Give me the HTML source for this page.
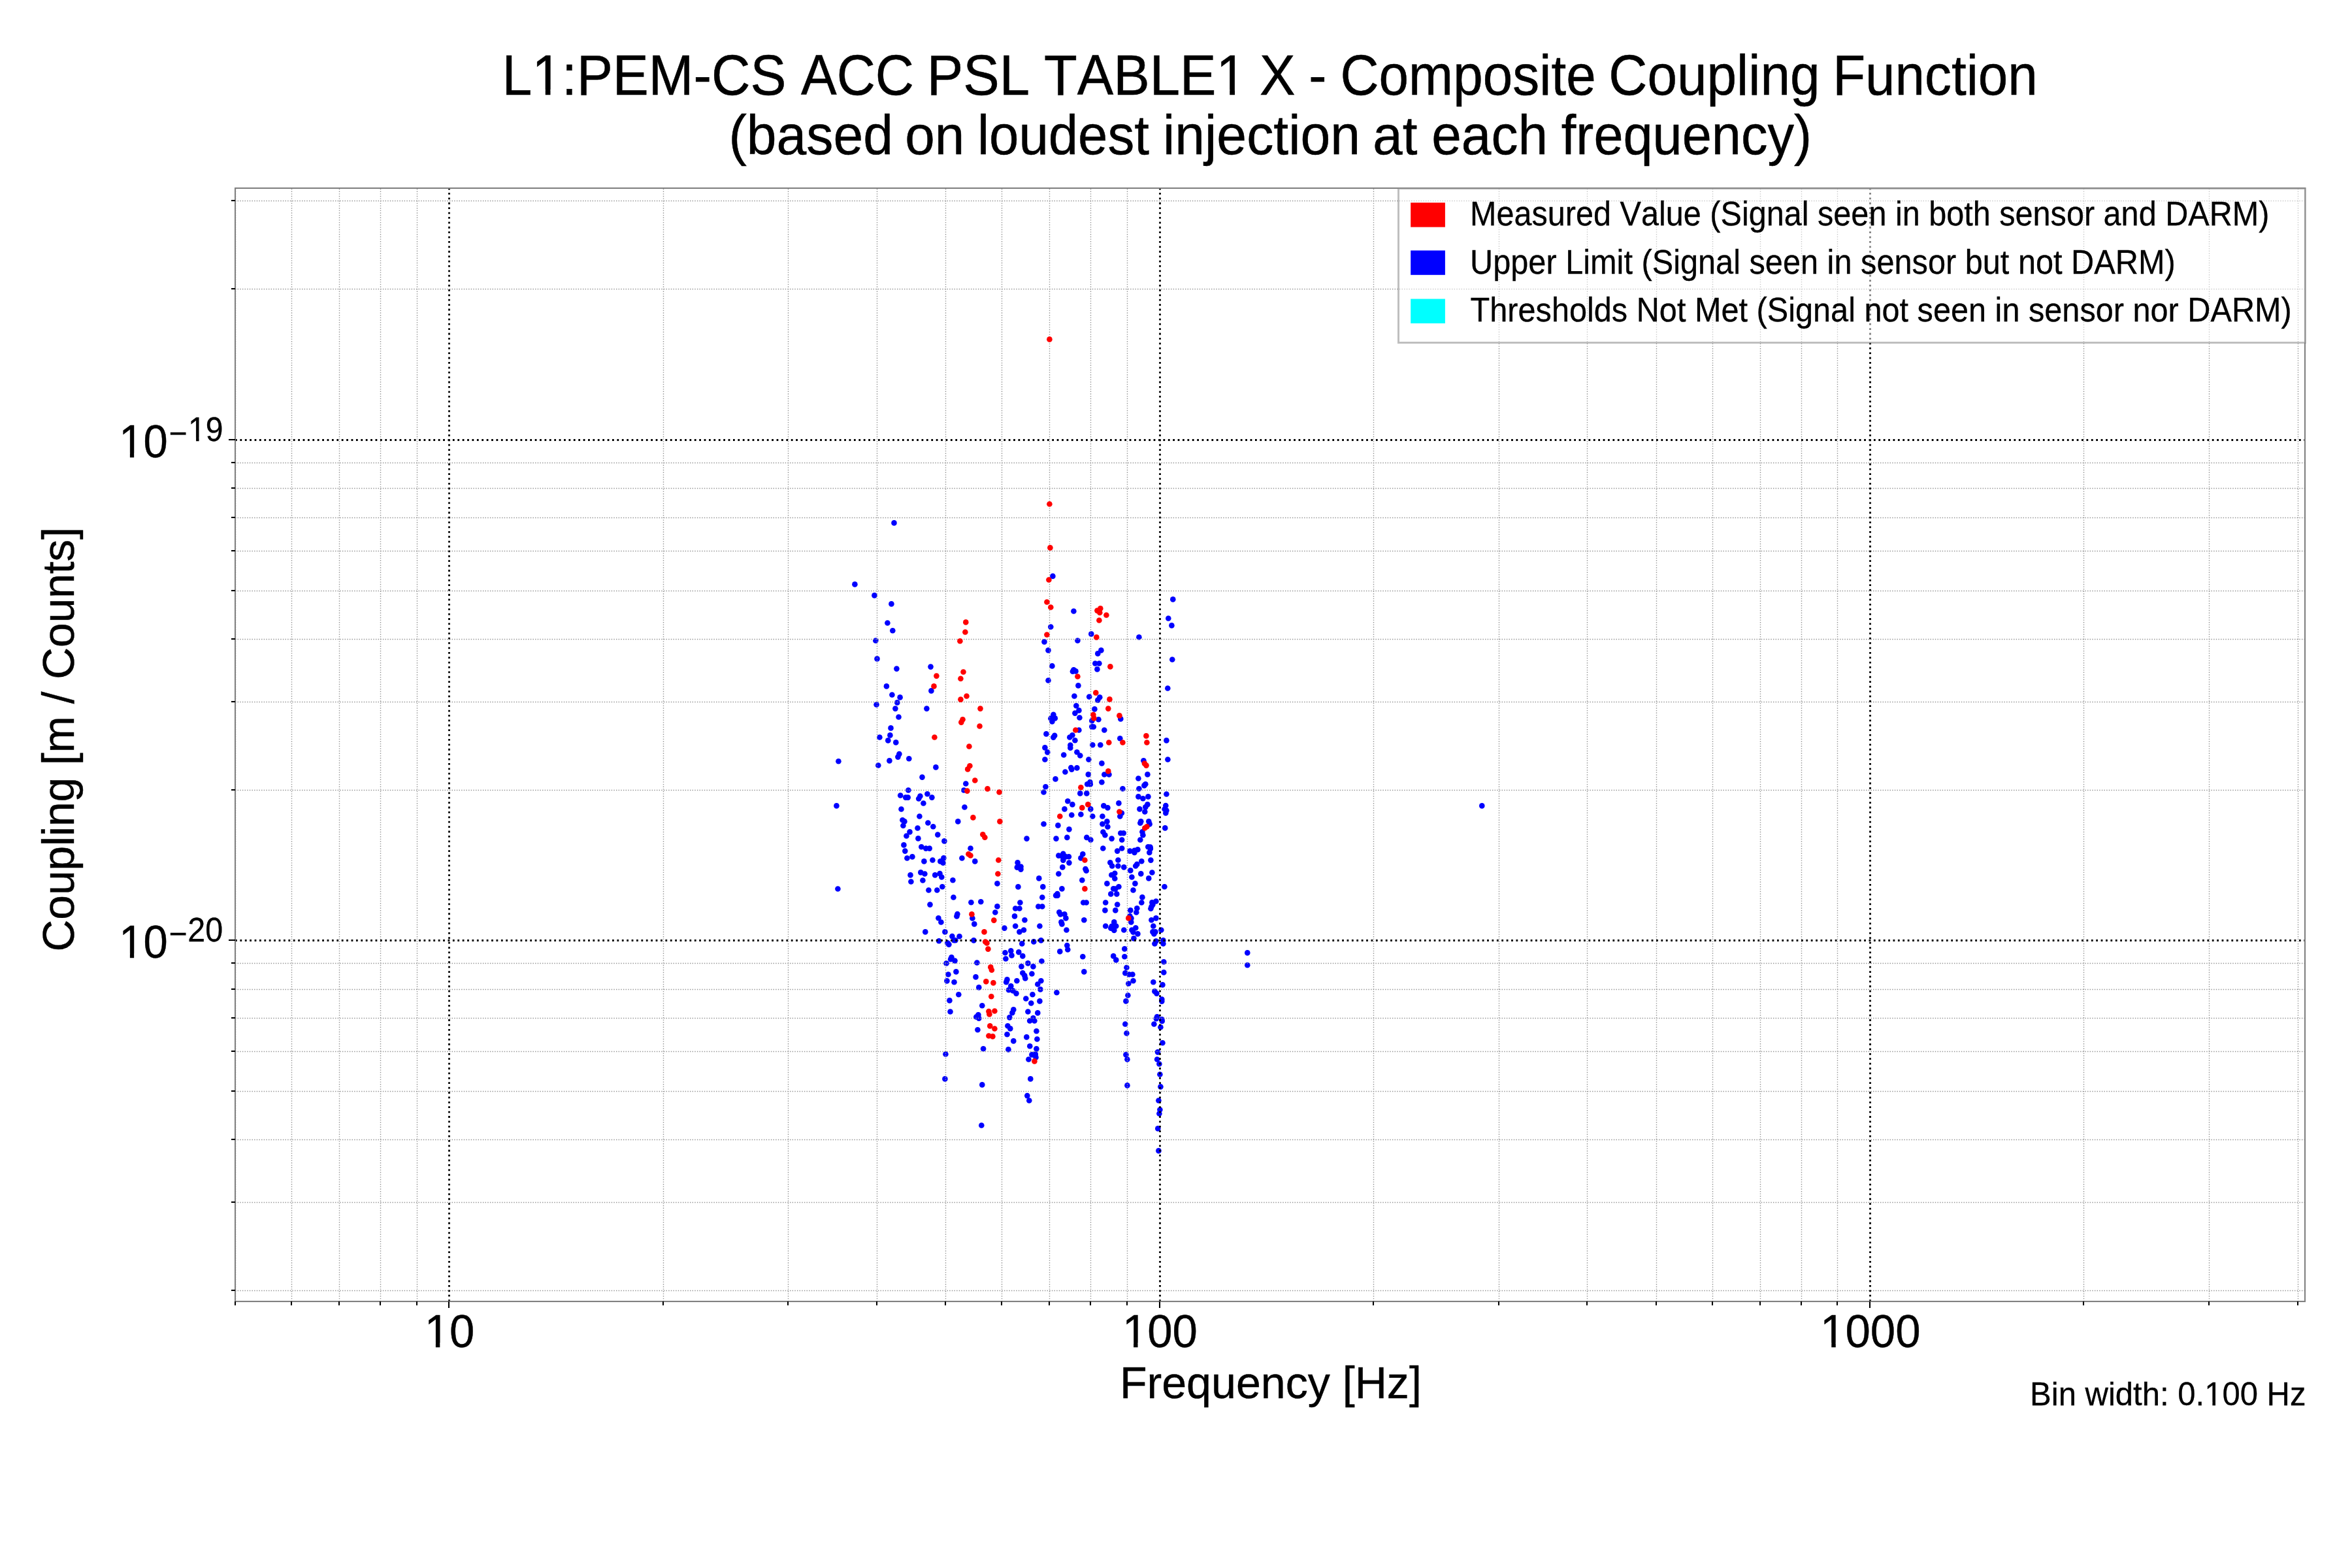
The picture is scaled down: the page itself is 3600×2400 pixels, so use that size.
<!DOCTYPE html>
<html><head><meta charset="utf-8"><title>L1:PEM-CS ACC PSL TABLE1 X - Composite Coupling Function</title>
<style>html,body{margin:0;padding:0;background:#fff}svg{display:block}text{font-family:"Liberation Sans",sans-serif;fill:#000;font-kerning:none}</style></head><body>
<svg width="3600" height="2400" viewBox="0 0 3600 2400">
<rect width="3600" height="2400" fill="#fff"/>
<g fill="#0000ff">
<circle cx="1368.5" cy="800.4" r="4.3"/>
<circle cx="1308.4" cy="894.4" r="4.3"/>
<circle cx="1338.4" cy="911.4" r="4.3"/>
<circle cx="1364.4" cy="924.4" r="4.3"/>
<circle cx="1358.4" cy="953.5" r="4.3"/>
<circle cx="1366.3" cy="965.3" r="4.3"/>
<circle cx="1340.3" cy="980.5" r="4.3"/>
<circle cx="1342.5" cy="1008.4" r="4.3"/>
<circle cx="1372.4" cy="1023.6" r="4.3"/>
<circle cx="1424.5" cy="1020.6" r="4.3"/>
<circle cx="1356.9" cy="1050.4" r="4.3"/>
<circle cx="1425.4" cy="1057.4" r="4.3"/>
<circle cx="1365.4" cy="1063.5" r="4.3"/>
<circle cx="1377.6" cy="1067.4" r="4.3"/>
<circle cx="1373.3" cy="1075.4" r="4.3"/>
<circle cx="1341.5" cy="1078.5" r="4.3"/>
<circle cx="1370.4" cy="1084.6" r="4.3"/>
<circle cx="1418.4" cy="1084.6" r="4.3"/>
<circle cx="1375.5" cy="1097.5" r="4.3"/>
<circle cx="1363.5" cy="1114.4" r="4.3"/>
<circle cx="1362.4" cy="1125.4" r="4.3"/>
<circle cx="1346.4" cy="1128.5" r="4.3"/>
<circle cx="1359.3" cy="1133.4" r="4.3"/>
<circle cx="1371.3" cy="1136.4" r="4.3"/>
<circle cx="1376.4" cy="1154.1" r="4.3"/>
<circle cx="1374.4" cy="1158.6" r="4.3"/>
<circle cx="1391.3" cy="1161.2" r="4.3"/>
<circle cx="1361.4" cy="1164.4" r="4.3"/>
<circle cx="1283.4" cy="1165.3" r="4.3"/>
<circle cx="1344.3" cy="1171.5" r="4.3"/>
<circle cx="1432.4" cy="1174.4" r="4.3"/>
<circle cx="1411.5" cy="1189.6" r="4.3"/>
<circle cx="1478.3" cy="1199.5" r="4.3"/>
<circle cx="1390.3" cy="1209.5" r="4.3"/>
<circle cx="1475.3" cy="1209.5" r="4.3"/>
<circle cx="1378.2" cy="1217.5" r="4.3"/>
<circle cx="1386.2" cy="1220.6" r="4.3"/>
<circle cx="1389.7" cy="1220.6" r="4.3"/>
<circle cx="1419.4" cy="1215.3" r="4.3"/>
<circle cx="1408.4" cy="1218.6" r="4.3"/>
<circle cx="1406.2" cy="1222.5" r="4.3"/>
<circle cx="1426.4" cy="1220.6" r="4.3"/>
<circle cx="1413.4" cy="1229.5" r="4.3"/>
<circle cx="1280.4" cy="1233.4" r="4.3"/>
<circle cx="1379.5" cy="1238.5" r="4.3"/>
<circle cx="1476.4" cy="1235.5" r="4.3"/>
<circle cx="1407.4" cy="1249.5" r="4.3"/>
<circle cx="1381.4" cy="1255.3" r="4.3"/>
<circle cx="1384.4" cy="1257.4" r="4.3"/>
<circle cx="1382.4" cy="1263.7" r="4.3"/>
<circle cx="1420.4" cy="1259.5" r="4.3"/>
<circle cx="1428.3" cy="1265.3" r="4.3"/>
<circle cx="1466.3" cy="1257.4" r="4.3"/>
<circle cx="1404.5" cy="1267.5" r="4.3"/>
<circle cx="1392.5" cy="1273.4" r="4.3"/>
<circle cx="1387.4" cy="1279.5" r="4.3"/>
<circle cx="1435.3" cy="1277.6" r="4.3"/>
<circle cx="1405.4" cy="1283.4" r="4.3"/>
<circle cx="1445.4" cy="1287.4" r="4.3"/>
<circle cx="1383.4" cy="1293.4" r="4.3"/>
<circle cx="1410.3" cy="1296.3" r="4.3"/>
<circle cx="1417.2" cy="1298.6" r="4.3"/>
<circle cx="1422.7" cy="1298.6" r="4.3"/>
<circle cx="1385.3" cy="1302.6" r="4.3"/>
<circle cx="1485.5" cy="1298.5" r="4.3"/>
<circle cx="1396.4" cy="1311.4" r="4.3"/>
<circle cx="1388.4" cy="1313.5" r="4.3"/>
<circle cx="1444.4" cy="1313.3" r="4.3"/>
<circle cx="1472.4" cy="1313.5" r="4.3"/>
<circle cx="1414.4" cy="1318.4" r="4.3"/>
<circle cx="1427.4" cy="1316.5" r="4.3"/>
<circle cx="1439.3" cy="1318.4" r="4.3"/>
<circle cx="1443.5" cy="1320.7" r="4.3"/>
<circle cx="1492.3" cy="1318.4" r="4.3"/>
<circle cx="1409.3" cy="1335.4" r="4.3"/>
<circle cx="1415.4" cy="1337.5" r="4.3"/>
<circle cx="1393.5" cy="1339.4" r="4.3"/>
<circle cx="1431.2" cy="1339.4" r="4.3"/>
<circle cx="1438.5" cy="1337.1" r="4.3"/>
<circle cx="1441.3" cy="1342.5" r="4.3"/>
<circle cx="1394.4" cy="1349.5" r="4.3"/>
<circle cx="1412.4" cy="1347.5" r="4.3"/>
<circle cx="1458.4" cy="1347.3" r="4.3"/>
<circle cx="1526.4" cy="1352.4" r="4.3"/>
<circle cx="1442.3" cy="1357.3" r="4.3"/>
<circle cx="1282.4" cy="1360.5" r="4.3"/>
<circle cx="1421.4" cy="1362.5" r="4.3"/>
<circle cx="1434.3" cy="1362.5" r="4.3"/>
<circle cx="1459.4" cy="1373.5" r="4.3"/>
<circle cx="1486.4" cy="1381.3" r="4.3"/>
<circle cx="1501.3" cy="1380.3" r="4.3"/>
<circle cx="1423.5" cy="1384.6" r="4.3"/>
<circle cx="1526.4" cy="1387.4" r="4.3"/>
<circle cx="1523.3" cy="1396.5" r="4.3"/>
<circle cx="1465.4" cy="1399.1" r="4.3"/>
<circle cx="1464.4" cy="1402.4" r="4.3"/>
<circle cx="1436.4" cy="1405.3" r="4.3"/>
<circle cx="1440.4" cy="1411.5" r="4.3"/>
<circle cx="1488.4" cy="1405.5" r="4.3"/>
<circle cx="1491.3" cy="1414.4" r="4.3"/>
<circle cx="1537.4" cy="1420.6" r="4.3"/>
<circle cx="1416.3" cy="1426.4" r="4.3"/>
<circle cx="1446.4" cy="1426.4" r="4.3"/>
<circle cx="1457.4" cy="1433.1" r="4.3"/>
<circle cx="1468.5" cy="1433.3" r="4.3"/>
<circle cx="1437.2" cy="1440.2" r="4.3"/>
<circle cx="1460.2" cy="1439.3" r="4.3"/>
<circle cx="1462.4" cy="1439.3" r="4.3"/>
<circle cx="1490.4" cy="1439.4" r="4.3"/>
<circle cx="1450.3" cy="1443.4" r="4.3"/>
<circle cx="1452.4" cy="1445.6" r="4.3"/>
<circle cx="1538.5" cy="1458.3" r="4.3"/>
<circle cx="1539.4" cy="1467.5" r="4.3"/>
<circle cx="1456.4" cy="1465.2" r="4.3"/>
<circle cx="1455.1" cy="1468.3" r="4.3"/>
<circle cx="1461.5" cy="1470.6" r="4.3"/>
<circle cx="1448.5" cy="1474.5" r="4.3"/>
<circle cx="1495.4" cy="1473.5" r="4.3"/>
<circle cx="1463.4" cy="1487.4" r="4.3"/>
<circle cx="1451.4" cy="1491.5" r="4.3"/>
<circle cx="1493.5" cy="1495.4" r="4.3"/>
<circle cx="1449.4" cy="1501.4" r="4.3"/>
<circle cx="1460.5" cy="1503.3" r="4.3"/>
<circle cx="1498.3" cy="1511.4" r="4.3"/>
<circle cx="1467.3" cy="1522.3" r="4.3"/>
<circle cx="1453.4" cy="1531.4" r="4.3"/>
<circle cx="1503.3" cy="1539.3" r="4.3"/>
<circle cx="1454.5" cy="1548.5" r="4.3"/>
<circle cx="1497.4" cy="1553.2" r="4.3"/>
<circle cx="1494.3" cy="1556.5" r="4.3"/>
<circle cx="1498.3" cy="1558.6" r="4.3"/>
<circle cx="1496.4" cy="1576.2" r="4.3"/>
<circle cx="1505.1" cy="1605.3" r="4.3"/>
<circle cx="1447.4" cy="1613.5" r="4.3"/>
<circle cx="1446.4" cy="1651.4" r="4.3"/>
<circle cx="1503.3" cy="1660.4" r="4.3"/>
<circle cx="1502.3" cy="1722.5" r="4.3"/>
<circle cx="1611.4" cy="881.9" r="4.3"/>
<circle cx="1795.3" cy="917.4" r="4.3"/>
<circle cx="1643.4" cy="935.5" r="4.3"/>
<circle cx="1788.3" cy="946.5" r="4.3"/>
<circle cx="1793.4" cy="957.4" r="4.3"/>
<circle cx="1608.3" cy="959.5" r="4.3"/>
<circle cx="1670.3" cy="970.4" r="4.3"/>
<circle cx="1743.4" cy="975.3" r="4.3"/>
<circle cx="1649.4" cy="980.5" r="4.3"/>
<circle cx="1598.5" cy="982.4" r="4.3"/>
<circle cx="1604.5" cy="995.4" r="4.3"/>
<circle cx="1685.4" cy="995.4" r="4.3"/>
<circle cx="1680.3" cy="1000.4" r="4.3"/>
<circle cx="1794.3" cy="1009.5" r="4.3"/>
<circle cx="1676.3" cy="1015.5" r="4.3"/>
<circle cx="1682.4" cy="1015.5" r="4.3"/>
<circle cx="1610.4" cy="1019.4" r="4.3"/>
<circle cx="1679.4" cy="1024.4" r="4.3"/>
<circle cx="1643.4" cy="1025.2" r="4.3"/>
<circle cx="1641.9" cy="1027.7" r="4.3"/>
<circle cx="1646.5" cy="1027.4" r="4.3"/>
<circle cx="1604.5" cy="1041.5" r="4.3"/>
<circle cx="1650.4" cy="1049.4" r="4.3"/>
<circle cx="1787.3" cy="1053.5" r="4.3"/>
<circle cx="1644.4" cy="1065.5" r="4.3"/>
<circle cx="1667.2" cy="1066.5" r="4.3"/>
<circle cx="1683.3" cy="1067.2" r="4.3"/>
<circle cx="1680.3" cy="1071.6" r="4.3"/>
<circle cx="1647.3" cy="1080.3" r="4.3"/>
<circle cx="1651.4" cy="1087.4" r="4.3"/>
<circle cx="1645.4" cy="1091.6" r="4.3"/>
<circle cx="1675.4" cy="1085.4" r="4.3"/>
<circle cx="1612.4" cy="1093.8" r="4.3"/>
<circle cx="1614.8" cy="1099.4" r="4.3"/>
<circle cx="1608.4" cy="1099.8" r="4.3"/>
<circle cx="1610.4" cy="1104.5" r="4.3"/>
<circle cx="1611.6" cy="1097.9" r="4.3"/>
<circle cx="1652.4" cy="1098.5" r="4.3"/>
<circle cx="1681.4" cy="1101.3" r="4.3"/>
<circle cx="1671.3" cy="1103.3" r="4.3"/>
<circle cx="1715.3" cy="1100.4" r="4.3"/>
<circle cx="1671.3" cy="1112.3" r="4.3"/>
<circle cx="1673.8" cy="1112.5" r="4.3"/>
<circle cx="1651.4" cy="1117.5" r="4.3"/>
<circle cx="1690.3" cy="1117.5" r="4.3"/>
<circle cx="1601.4" cy="1123.4" r="4.3"/>
<circle cx="1614.2" cy="1125.9" r="4.3"/>
<circle cx="1612.3" cy="1128.6" r="4.3"/>
<circle cx="1641.4" cy="1125.2" r="4.3"/>
<circle cx="1637.3" cy="1128.5" r="4.3"/>
<circle cx="1645.4" cy="1133.3" r="4.3"/>
<circle cx="1714.3" cy="1130.3" r="4.3"/>
<circle cx="1785.4" cy="1133.4" r="4.3"/>
<circle cx="1672.3" cy="1140.3" r="4.3"/>
<circle cx="1684.3" cy="1140.3" r="4.3"/>
<circle cx="1638.3" cy="1140.6" r="4.3"/>
<circle cx="1638.3" cy="1144.7" r="4.3"/>
<circle cx="1599.4" cy="1144.4" r="4.3"/>
<circle cx="1603.3" cy="1151.4" r="4.3"/>
<circle cx="1648.4" cy="1151.3" r="4.3"/>
<circle cx="1653.3" cy="1156.5" r="4.3"/>
<circle cx="1628.2" cy="1155.5" r="4.3"/>
<circle cx="1599.4" cy="1162.5" r="4.3"/>
<circle cx="1666.4" cy="1162.5" r="4.3"/>
<circle cx="1787.4" cy="1162.5" r="4.3"/>
<circle cx="1686.4" cy="1168.4" r="4.3"/>
<circle cx="1750.4" cy="1164.2" r="4.3"/>
<circle cx="1639.3" cy="1175.0" r="4.3"/>
<circle cx="1640.3" cy="1177.6" r="4.3"/>
<circle cx="1648.4" cy="1175.4" r="4.3"/>
<circle cx="1630.4" cy="1181.5" r="4.3"/>
<circle cx="1665.8" cy="1185.4" r="4.3"/>
<circle cx="1690.3" cy="1185.5" r="4.3"/>
<circle cx="1697.5" cy="1185.5" r="4.3"/>
<circle cx="1756.4" cy="1185.4" r="4.3"/>
<circle cx="1615.5" cy="1192.4" r="4.3"/>
<circle cx="1742.4" cy="1191.5" r="4.3"/>
<circle cx="1686.4" cy="1197.3" r="4.3"/>
<circle cx="1668.4" cy="1197.1" r="4.3"/>
<circle cx="1664.2" cy="1200.3" r="4.3"/>
<circle cx="1668.8" cy="1200.5" r="4.3"/>
<circle cx="1753.3" cy="1200.2" r="4.3"/>
<circle cx="1751.4" cy="1202.4" r="4.3"/>
<circle cx="1600.4" cy="1204.2" r="4.3"/>
<circle cx="1718.4" cy="1207.3" r="4.3"/>
<circle cx="1743.4" cy="1207.3" r="4.3"/>
<circle cx="1597.5" cy="1212.5" r="4.3"/>
<circle cx="1653.3" cy="1214.4" r="4.3"/>
<circle cx="1663.3" cy="1214.4" r="4.3"/>
<circle cx="1785.4" cy="1215.5" r="4.3"/>
<circle cx="1742.4" cy="1219.4" r="4.3"/>
<circle cx="1757.4" cy="1219.4" r="4.3"/>
<circle cx="1749.4" cy="1222.3" r="4.3"/>
<circle cx="1634.3" cy="1226.3" r="4.3"/>
<circle cx="1641.4" cy="1231.4" r="4.3"/>
<circle cx="1712.4" cy="1229.4" r="4.3"/>
<circle cx="1756.4" cy="1231.4" r="4.3"/>
<circle cx="1753.3" cy="1235.4" r="4.3"/>
<circle cx="1689.3" cy="1233.4" r="4.3"/>
<circle cx="1695.4" cy="1236.4" r="4.3"/>
<circle cx="1784.3" cy="1233.1" r="4.3"/>
<circle cx="1782.6" cy="1238.5" r="4.3"/>
<circle cx="1785.4" cy="1240.5" r="4.3"/>
<circle cx="1784.3" cy="1244.5" r="4.3"/>
<circle cx="1629.4" cy="1238.4" r="4.3"/>
<circle cx="1669.3" cy="1238.4" r="4.3"/>
<circle cx="1744.4" cy="1238.4" r="4.3"/>
<circle cx="1752.3" cy="1242.5" r="4.3"/>
<circle cx="1716.9" cy="1244.5" r="4.3"/>
<circle cx="1714.3" cy="1249.5" r="4.3"/>
<circle cx="1640.3" cy="1247.5" r="4.3"/>
<circle cx="1654.4" cy="1246.5" r="4.3"/>
<circle cx="1672.3" cy="1249.5" r="4.3"/>
<circle cx="1687.4" cy="1249.5" r="4.3"/>
<circle cx="1694.4" cy="1257.4" r="4.3"/>
<circle cx="1746.3" cy="1257.3" r="4.3"/>
<circle cx="1745.3" cy="1259.8" r="4.3"/>
<circle cx="1758.3" cy="1257.3" r="4.3"/>
<circle cx="1759.6" cy="1261.4" r="4.3"/>
<circle cx="1597.5" cy="1261.2" r="4.3"/>
<circle cx="1619.4" cy="1263.4" r="4.3"/>
<circle cx="1687.4" cy="1261.2" r="4.3"/>
<circle cx="1695.4" cy="1265.5" r="4.3"/>
<circle cx="1636.4" cy="1269.4" r="4.3"/>
<circle cx="1783.3" cy="1267.4" r="4.3"/>
<circle cx="1688.4" cy="1273.5" r="4.3"/>
<circle cx="1691.4" cy="1278.3" r="4.3"/>
<circle cx="1748.4" cy="1273.2" r="4.3"/>
<circle cx="1749.4" cy="1278.3" r="4.3"/>
<circle cx="1715.3" cy="1275.2" r="4.3"/>
<circle cx="1719.7" cy="1275.2" r="4.3"/>
<circle cx="1571.5" cy="1283.6" r="4.3"/>
<circle cx="1616.5" cy="1283.6" r="4.3"/>
<circle cx="1633.3" cy="1281.9" r="4.3"/>
<circle cx="1663.3" cy="1281.9" r="4.3"/>
<circle cx="1669.4" cy="1285.5" r="4.3"/>
<circle cx="1701.6" cy="1283.6" r="4.3"/>
<circle cx="1717.2" cy="1285.5" r="4.3"/>
<circle cx="1745.3" cy="1285.5" r="4.3"/>
<circle cx="1688.3" cy="1298.5" r="4.3"/>
<circle cx="1717.2" cy="1298.5" r="4.3"/>
<circle cx="1710.2" cy="1302.6" r="4.3"/>
<circle cx="1729.4" cy="1302.6" r="4.3"/>
<circle cx="1736.4" cy="1301.7" r="4.3"/>
<circle cx="1741.4" cy="1300.4" r="4.3"/>
<circle cx="1736.4" cy="1304.9" r="4.3"/>
<circle cx="1757.3" cy="1296.3" r="4.3"/>
<circle cx="1760.6" cy="1296.6" r="4.3"/>
<circle cx="1759.3" cy="1304.9" r="4.3"/>
<circle cx="1760.9" cy="1299.1" r="4.3"/>
<circle cx="1620.3" cy="1309.6" r="4.3"/>
<circle cx="1627.3" cy="1306.8" r="4.3"/>
<circle cx="1625.7" cy="1310.6" r="4.3"/>
<circle cx="1631.4" cy="1311.2" r="4.3"/>
<circle cx="1635.9" cy="1311.2" r="4.3"/>
<circle cx="1627.3" cy="1316.6" r="4.3"/>
<circle cx="1657.3" cy="1307.3" r="4.3"/>
<circle cx="1654.4" cy="1313.4" r="4.3"/>
<circle cx="1636.4" cy="1320.6" r="4.3"/>
<circle cx="1711.4" cy="1316.5" r="4.3"/>
<circle cx="1699.3" cy="1320.3" r="4.3"/>
<circle cx="1702.2" cy="1325.5" r="4.3"/>
<circle cx="1711.4" cy="1325.5" r="4.3"/>
<circle cx="1720.3" cy="1327.4" r="4.3"/>
<circle cx="1747.3" cy="1318.3" r="4.3"/>
<circle cx="1761.4" cy="1316.6" r="4.3"/>
<circle cx="1740.3" cy="1322.9" r="4.3"/>
<circle cx="1738.2" cy="1325.5" r="4.3"/>
<circle cx="1557.6" cy="1320.4" r="4.3"/>
<circle cx="1562.5" cy="1326.6" r="4.3"/>
<circle cx="1556.8" cy="1327.6" r="4.3"/>
<circle cx="1562.5" cy="1330.6" r="4.3"/>
<circle cx="1626.3" cy="1327.4" r="4.3"/>
<circle cx="1661.4" cy="1330.1" r="4.3"/>
<circle cx="1662.7" cy="1332.7" r="4.3"/>
<circle cx="1730.3" cy="1332.4" r="4.3"/>
<circle cx="1763.4" cy="1335.5" r="4.3"/>
<circle cx="1620.3" cy="1337.5" r="4.3"/>
<circle cx="1706.3" cy="1336.8" r="4.3"/>
<circle cx="1701.3" cy="1339.3" r="4.3"/>
<circle cx="1706.3" cy="1344.7" r="4.3"/>
<circle cx="1746.3" cy="1337.4" r="4.3"/>
<circle cx="1732.4" cy="1342.5" r="4.3"/>
<circle cx="1758.3" cy="1344.4" r="4.3"/>
<circle cx="1590.3" cy="1344.4" r="4.3"/>
<circle cx="1656.3" cy="1347.3" r="4.3"/>
<circle cx="1694.4" cy="1352.4" r="4.3"/>
<circle cx="1737.4" cy="1352.4" r="4.3"/>
<circle cx="1782.4" cy="1357.3" r="4.3"/>
<circle cx="1558.4" cy="1357.4" r="4.3"/>
<circle cx="1596.3" cy="1357.4" r="4.3"/>
<circle cx="1625.4" cy="1360.4" r="4.3"/>
<circle cx="1712.4" cy="1357.3" r="4.3"/>
<circle cx="1704.2" cy="1360.4" r="4.3"/>
<circle cx="1707.3" cy="1360.6" r="4.3"/>
<circle cx="1734.5" cy="1362.5" r="4.3"/>
<circle cx="1700.3" cy="1368.4" r="4.3"/>
<circle cx="1709.3" cy="1368.4" r="4.3"/>
<circle cx="1618.4" cy="1368.0" r="4.3"/>
<circle cx="1616.1" cy="1370.6" r="4.3"/>
<circle cx="1618.6" cy="1370.8" r="4.3"/>
<circle cx="1595.3" cy="1373.5" r="4.3"/>
<circle cx="1748.4" cy="1373.4" r="4.3"/>
<circle cx="1561.4" cy="1381.5" r="4.3"/>
<circle cx="1658.2" cy="1381.5" r="4.3"/>
<circle cx="1662.7" cy="1381.5" r="4.3"/>
<circle cx="1692.2" cy="1381.5" r="4.3"/>
<circle cx="1710.2" cy="1384.5" r="4.3"/>
<circle cx="1747.3" cy="1381.5" r="4.3"/>
<circle cx="1769.4" cy="1379.5" r="4.3"/>
<circle cx="1763.4" cy="1381.4" r="4.3"/>
<circle cx="1764.4" cy="1384.6" r="4.3"/>
<circle cx="1762.4" cy="1387.8" r="4.3"/>
<circle cx="1761.4" cy="1390.7" r="4.3"/>
<circle cx="1589.3" cy="1387.5" r="4.3"/>
<circle cx="1595.3" cy="1387.5" r="4.3"/>
<circle cx="1554.2" cy="1390.5" r="4.3"/>
<circle cx="1560.4" cy="1390.5" r="4.3"/>
<circle cx="1691.4" cy="1393.4" r="4.3"/>
<circle cx="1707.3" cy="1393.4" r="4.3"/>
<circle cx="1730.3" cy="1393.4" r="4.3"/>
<circle cx="1740.3" cy="1390.3" r="4.3"/>
<circle cx="1739.3" cy="1396.5" r="4.3"/>
<circle cx="1621.3" cy="1396.3" r="4.3"/>
<circle cx="1623.1" cy="1399.5" r="4.3"/>
<circle cx="1629.4" cy="1399.3" r="4.3"/>
<circle cx="1631.4" cy="1405.4" r="4.3"/>
<circle cx="1553.0" cy="1402.4" r="4.3"/>
<circle cx="1729.4" cy="1402.4" r="4.3"/>
<circle cx="1731.5" cy="1405.6" r="4.3"/>
<circle cx="1568.4" cy="1408.3" r="4.3"/>
<circle cx="1659.3" cy="1408.3" r="4.3"/>
<circle cx="1769.4" cy="1405.4" r="4.3"/>
<circle cx="1762.4" cy="1408.3" r="4.3"/>
<circle cx="1624.4" cy="1411.4" r="4.3"/>
<circle cx="1625.4" cy="1414.4" r="4.3"/>
<circle cx="1705.3" cy="1411.4" r="4.3"/>
<circle cx="1731.3" cy="1411.4" r="4.3"/>
<circle cx="1554.2" cy="1417.5" r="4.3"/>
<circle cx="1591.4" cy="1417.5" r="4.3"/>
<circle cx="1692.2" cy="1417.5" r="4.3"/>
<circle cx="1701.6" cy="1417.8" r="4.3"/>
<circle cx="1705.3" cy="1417.1" r="4.3"/>
<circle cx="1708.3" cy="1417.5" r="4.3"/>
<circle cx="1700.3" cy="1420.7" r="4.3"/>
<circle cx="1705.3" cy="1423.9" r="4.3"/>
<circle cx="1704.1" cy="1420.3" r="4.3"/>
<circle cx="1765.3" cy="1417.5" r="4.3"/>
<circle cx="1738.3" cy="1420.3" r="4.3"/>
<circle cx="1567.0" cy="1423.5" r="4.3"/>
<circle cx="1560.4" cy="1426.4" r="4.3"/>
<circle cx="1632.4" cy="1423.5" r="4.3"/>
<circle cx="1720.3" cy="1423.5" r="4.3"/>
<circle cx="1777.4" cy="1423.5" r="4.3"/>
<circle cx="1732.4" cy="1423.5" r="4.3"/>
<circle cx="1734.5" cy="1426.7" r="4.3"/>
<circle cx="1741.4" cy="1429.4" r="4.3"/>
<circle cx="1764.4" cy="1426.4" r="4.3"/>
<circle cx="1768.4" cy="1426.4" r="4.3"/>
<circle cx="1766.4" cy="1429.5" r="4.3"/>
<circle cx="1735.4" cy="1436.4" r="4.3"/>
<circle cx="1593.4" cy="1439.4" r="4.3"/>
<circle cx="1582.3" cy="1441.4" r="4.3"/>
<circle cx="1564.3" cy="1444.4" r="4.3"/>
<circle cx="1769.4" cy="1440.5" r="4.3"/>
<circle cx="1767.4" cy="1444.5" r="4.3"/>
<circle cx="1780.4" cy="1439.4" r="4.3"/>
<circle cx="1780.4" cy="1444.5" r="4.3"/>
<circle cx="1633.3" cy="1447.1" r="4.3"/>
<circle cx="1634.3" cy="1453.5" r="4.3"/>
<circle cx="1721.3" cy="1452.4" r="4.3"/>
<circle cx="1622.3" cy="1456.4" r="4.3"/>
<circle cx="1547.3" cy="1455.4" r="4.3"/>
<circle cx="1559.3" cy="1457.4" r="4.3"/>
<circle cx="1548.5" cy="1462.4" r="4.3"/>
<circle cx="1565.3" cy="1463.4" r="4.3"/>
<circle cx="1657.3" cy="1464.3" r="4.3"/>
<circle cx="1704.2" cy="1463.4" r="4.3"/>
<circle cx="1708.3" cy="1469.4" r="4.3"/>
<circle cx="1721.3" cy="1464.3" r="4.3"/>
<circle cx="1594.4" cy="1471.3" r="4.3"/>
<circle cx="1573.4" cy="1474.4" r="4.3"/>
<circle cx="1781.3" cy="1472.2" r="4.3"/>
<circle cx="1563.4" cy="1479.4" r="4.3"/>
<circle cx="1581.4" cy="1479.4" r="4.3"/>
<circle cx="1724.4" cy="1481.0" r="4.3"/>
<circle cx="1659.3" cy="1487.4" r="4.3"/>
<circle cx="1781.3" cy="1488.4" r="4.3"/>
<circle cx="1565.3" cy="1489.3" r="4.3"/>
<circle cx="1568.3" cy="1493.4" r="4.3"/>
<circle cx="1569.3" cy="1497.5" r="4.3"/>
<circle cx="1579.4" cy="1490.5" r="4.3"/>
<circle cx="1722.3" cy="1489.4" r="4.3"/>
<circle cx="1728.3" cy="1491.5" r="4.3"/>
<circle cx="1733.4" cy="1491.5" r="4.3"/>
<circle cx="1541.5" cy="1499.4" r="4.3"/>
<circle cx="1540.2" cy="1503.3" r="4.3"/>
<circle cx="1556.4" cy="1501.3" r="4.3"/>
<circle cx="1593.4" cy="1501.3" r="4.3"/>
<circle cx="1588.3" cy="1506.5" r="4.3"/>
<circle cx="1734.5" cy="1501.3" r="4.3"/>
<circle cx="1727.3" cy="1505.5" r="4.3"/>
<circle cx="1765.3" cy="1503.3" r="4.3"/>
<circle cx="1779.4" cy="1507.4" r="4.3"/>
<circle cx="1547.3" cy="1509.3" r="4.3"/>
<circle cx="1544.0" cy="1515.3" r="4.3"/>
<circle cx="1550.4" cy="1516.4" r="4.3"/>
<circle cx="1555.5" cy="1520.6" r="4.3"/>
<circle cx="1592.4" cy="1514.4" r="4.3"/>
<circle cx="1617.4" cy="1519.3" r="4.3"/>
<circle cx="1767.4" cy="1517.4" r="4.3"/>
<circle cx="1770.4" cy="1520.6" r="4.3"/>
<circle cx="1580.4" cy="1522.3" r="4.3"/>
<circle cx="1726.4" cy="1523.5" r="4.3"/>
<circle cx="1570.3" cy="1528.5" r="4.3"/>
<circle cx="1591.4" cy="1532.4" r="4.3"/>
<circle cx="1578.3" cy="1535.5" r="4.3"/>
<circle cx="1723.4" cy="1532.4" r="4.3"/>
<circle cx="1778.3" cy="1529.5" r="4.3"/>
<circle cx="1778.3" cy="1532.6" r="4.3"/>
<circle cx="1551.3" cy="1545.4" r="4.3"/>
<circle cx="1549.4" cy="1550.2" r="4.3"/>
<circle cx="1573.4" cy="1548.5" r="4.3"/>
<circle cx="1588.3" cy="1550.4" r="4.3"/>
<circle cx="1545.3" cy="1557.4" r="4.3"/>
<circle cx="1581.4" cy="1558.4" r="4.3"/>
<circle cx="1576.2" cy="1562.5" r="4.3"/>
<circle cx="1583.4" cy="1562.5" r="4.3"/>
<circle cx="1771.1" cy="1556.3" r="4.3"/>
<circle cx="1769.8" cy="1559.1" r="4.3"/>
<circle cx="1778.3" cy="1560.4" r="4.3"/>
<circle cx="1778.7" cy="1562.9" r="4.3"/>
<circle cx="1542.4" cy="1570.3" r="4.3"/>
<circle cx="1546.3" cy="1574.4" r="4.3"/>
<circle cx="1722.3" cy="1567.5" r="4.3"/>
<circle cx="1766.4" cy="1567.5" r="4.3"/>
<circle cx="1776.4" cy="1572.3" r="4.3"/>
<circle cx="1586.4" cy="1578.3" r="4.3"/>
<circle cx="1724.4" cy="1581.5" r="4.3"/>
<circle cx="1541.5" cy="1583.3" r="4.3"/>
<circle cx="1571.3" cy="1587.4" r="4.3"/>
<circle cx="1587.4" cy="1590.5" r="4.3"/>
<circle cx="1551.3" cy="1593.4" r="4.3"/>
<circle cx="1779.4" cy="1596.3" r="4.3"/>
<circle cx="1576.3" cy="1601.3" r="4.3"/>
<circle cx="1586.4" cy="1605.4" r="4.3"/>
<circle cx="1543.4" cy="1606.4" r="4.3"/>
<circle cx="1772.1" cy="1610.4" r="4.3"/>
<circle cx="1723.4" cy="1614.4" r="4.3"/>
<circle cx="1579.4" cy="1614.4" r="4.3"/>
<circle cx="1584.8" cy="1613.5" r="4.3"/>
<circle cx="1585.5" cy="1618.4" r="4.3"/>
<circle cx="1574.4" cy="1621.5" r="4.3"/>
<circle cx="1725.4" cy="1621.5" r="4.3"/>
<circle cx="1771.1" cy="1621.5" r="4.3"/>
<circle cx="1774.4" cy="1628.5" r="4.3"/>
<circle cx="1775.4" cy="1644.5" r="4.3"/>
<circle cx="1577.3" cy="1651.4" r="4.3"/>
<circle cx="1725.4" cy="1661.4" r="4.3"/>
<circle cx="1776.4" cy="1663.4" r="4.3"/>
<circle cx="1572.3" cy="1677.1" r="4.3"/>
<circle cx="1575.3" cy="1684.5" r="4.3"/>
<circle cx="1773.4" cy="1684.5" r="4.3"/>
<circle cx="1775.4" cy="1698.5" r="4.3"/>
<circle cx="1774.4" cy="1704.5" r="4.3"/>
<circle cx="1772.3" cy="1727.4" r="4.3"/>
<circle cx="1773.4" cy="1761.4" r="4.3"/>
<circle cx="2268.3" cy="1233.4" r="4.3"/>
<circle cx="1909.3" cy="1458.4" r="4.3"/>
<circle cx="1909.3" cy="1477.3" r="4.3"/>
</g>
<g stroke="#919191" stroke-width="1.375" stroke-dasharray="1.375 2.269" fill="none">
<path d="M360.5 1992.0V288.0"/>
<path d="M446.5 1992.0V288.0"/>
<path d="M519.5 1992.0V288.0"/>
<path d="M582.5 1992.0V288.0"/>
<path d="M638.5 1992.0V288.0"/>
<path d="M1015.5 1992.0V288.0"/>
<path d="M1206.5 1992.0V288.0"/>
<path d="M1342.5 1992.0V288.0"/>
<path d="M1447.5 1992.0V288.0"/>
<path d="M1533.5 1992.0V288.0"/>
<path d="M1606.5 1992.0V288.0"/>
<path d="M1669.5 1992.0V288.0"/>
<path d="M1725.5 1992.0V288.0"/>
<path d="M2102.5 1992.0V288.0"/>
<path d="M2294.5 1992.0V288.0"/>
<path d="M2429.5 1992.0V288.0"/>
<path d="M2535.5 1992.0V288.0"/>
<path d="M2621.5 1992.0V288.0"/>
<path d="M2694.5 1992.0V288.0"/>
<path d="M2757.5 1992.0V288.0"/>
<path d="M2812.5 1992.0V288.0"/>
<path d="M3189.5 1992.0V288.0"/>
<path d="M3381.5 1992.0V288.0"/>
<path d="M3517.5 1992.0V288.0"/>
<path d="M360.0 442.5H3528.0"/>
<path d="M360.0 307.5H3528.0"/>
<path d="M360.0 1209.5H3528.0"/>
<path d="M360.0 1074.5H3528.0"/>
<path d="M360.0 978.5H3528.0"/>
<path d="M360.0 904.5H3528.0"/>
<path d="M360.0 843.5H3528.0"/>
<path d="M360.0 792.5H3528.0"/>
<path d="M360.0 747.5H3528.0"/>
<path d="M360.0 708.5H3528.0"/>
<path d="M360.0 1975.5H3528.0"/>
<path d="M360.0 1840.5H3528.0"/>
<path d="M360.0 1744.5H3528.0"/>
<path d="M360.0 1670.5H3528.0"/>
<path d="M360.0 1609.5H3528.0"/>
<path d="M360.0 1558.5H3528.0"/>
<path d="M360.0 1514.5H3528.0"/>
<path d="M360.0 1474.5H3528.0"/>
</g>
<g stroke="#000" stroke-width="2.7917" stroke-dasharray="2.792 4.606" fill="none">
<path d="M687.5 1992.0V288.0"/>
<path d="M1775.5 1992.0V288.0"/>
<path d="M2862.5 1992.0V288.0"/>
<path d="M360.0 673.5H3528.0"/>
<path d="M360.0 1439.5H3528.0"/>
</g>
<g fill="#ff0000">
<circle cx="1478.3" cy="952.4" r="4.3"/>
<circle cx="1477.4" cy="967.5" r="4.3"/>
<circle cx="1469.4" cy="981.3" r="4.3"/>
<circle cx="1474.5" cy="1028.5" r="4.3"/>
<circle cx="1433.4" cy="1034.6" r="4.3"/>
<circle cx="1470.4" cy="1038.7" r="4.3"/>
<circle cx="1429.5" cy="1050.4" r="4.3"/>
<circle cx="1479.5" cy="1065.5" r="4.3"/>
<circle cx="1470.4" cy="1070.6" r="4.3"/>
<circle cx="1500.5" cy="1084.6" r="4.3"/>
<circle cx="1473.5" cy="1101.2" r="4.3"/>
<circle cx="1471.3" cy="1105.6" r="4.3"/>
<circle cx="1499.5" cy="1111.5" r="4.3"/>
<circle cx="1430.4" cy="1128.5" r="4.3"/>
<circle cx="1483.4" cy="1142.5" r="4.3"/>
<circle cx="1484.4" cy="1172.2" r="4.3"/>
<circle cx="1481.2" cy="1177.4" r="4.3"/>
<circle cx="1492.3" cy="1194.5" r="4.3"/>
<circle cx="1511.5" cy="1207.4" r="4.3"/>
<circle cx="1480.4" cy="1210.6" r="4.3"/>
<circle cx="1529.5" cy="1212.5" r="4.3"/>
<circle cx="1489.4" cy="1251.4" r="4.3"/>
<circle cx="1530.4" cy="1257.4" r="4.3"/>
<circle cx="1504.3" cy="1277.3" r="4.3"/>
<circle cx="1507.4" cy="1281.7" r="4.3"/>
<circle cx="1482.4" cy="1307.3" r="4.3"/>
<circle cx="1485.5" cy="1309.5" r="4.3"/>
<circle cx="1528.3" cy="1316.5" r="4.3"/>
<circle cx="1527.4" cy="1337.5" r="4.3"/>
<circle cx="1487.4" cy="1399.4" r="4.3"/>
<circle cx="1521.3" cy="1408.6" r="4.3"/>
<circle cx="1506.5" cy="1426.4" r="4.3"/>
<circle cx="1508.2" cy="1441.5" r="4.3"/>
<circle cx="1510.5" cy="1443.4" r="4.3"/>
<circle cx="1512.4" cy="1452.6" r="4.3"/>
<circle cx="1516.3" cy="1480.4" r="4.3"/>
<circle cx="1517.9" cy="1484.8" r="4.3"/>
<circle cx="1509.3" cy="1502.4" r="4.3"/>
<circle cx="1520.4" cy="1504.4" r="4.3"/>
<circle cx="1517.3" cy="1525.3" r="4.3"/>
<circle cx="1513.4" cy="1548.1" r="4.3"/>
<circle cx="1514.4" cy="1552.4" r="4.3"/>
<circle cx="1522.4" cy="1547.5" r="4.3"/>
<circle cx="1515.3" cy="1570.4" r="4.3"/>
<circle cx="1522.4" cy="1574.5" r="4.3"/>
<circle cx="1513.4" cy="1585.5" r="4.3"/>
<circle cx="1519.4" cy="1586.4" r="4.3"/>
<circle cx="1606.4" cy="519.4" r="4.3"/>
<circle cx="1606.4" cy="771.5" r="4.3"/>
<circle cx="1607.4" cy="838.4" r="4.3"/>
<circle cx="1605.4" cy="887.5" r="4.3"/>
<circle cx="1602.4" cy="921.5" r="4.3"/>
<circle cx="1608.3" cy="929.5" r="4.3"/>
<circle cx="1684.3" cy="931.4" r="4.3"/>
<circle cx="1679.4" cy="934.6" r="4.3"/>
<circle cx="1683.3" cy="937.7" r="4.3"/>
<circle cx="1693.4" cy="941.5" r="4.3"/>
<circle cx="1682.4" cy="949.5" r="4.3"/>
<circle cx="1602.4" cy="971.5" r="4.3"/>
<circle cx="1678.3" cy="975.4" r="4.3"/>
<circle cx="1699.4" cy="1020.4" r="4.3"/>
<circle cx="1649.4" cy="1035.5" r="4.3"/>
<circle cx="1677.3" cy="1060.4" r="4.3"/>
<circle cx="1698.4" cy="1070.4" r="4.3"/>
<circle cx="1696.3" cy="1084.6" r="4.3"/>
<circle cx="1673.4" cy="1094.0" r="4.3"/>
<circle cx="1674.4" cy="1099.4" r="4.3"/>
<circle cx="1713.4" cy="1095.4" r="4.3"/>
<circle cx="1646.3" cy="1117.5" r="4.3"/>
<circle cx="1754.4" cy="1126.4" r="4.3"/>
<circle cx="1755.4" cy="1136.5" r="4.3"/>
<circle cx="1697.3" cy="1136.5" r="4.3"/>
<circle cx="1718.4" cy="1136.5" r="4.3"/>
<circle cx="1751.9" cy="1168.6" r="4.3"/>
<circle cx="1754.5" cy="1171.6" r="4.3"/>
<circle cx="1696.3" cy="1180.4" r="4.3"/>
<circle cx="1654.4" cy="1205.3" r="4.3"/>
<circle cx="1665.3" cy="1231.4" r="4.3"/>
<circle cx="1656.3" cy="1236.4" r="4.3"/>
<circle cx="1713.4" cy="1242.5" r="4.3"/>
<circle cx="1622.3" cy="1249.5" r="4.3"/>
<circle cx="1755.4" cy="1265.2" r="4.3"/>
<circle cx="1752.3" cy="1267.5" r="4.3"/>
<circle cx="1660.4" cy="1316.5" r="4.3"/>
<circle cx="1660.4" cy="1360.4" r="4.3"/>
<circle cx="1727.3" cy="1405.4" r="4.3"/>
<circle cx="1583.4" cy="1624.4" r="4.3"/>
</g>
<text transform="translate(688.04 2061.5) scale(1.035 1.055)" font-size="66.67" text-anchor="middle" stroke="#000" stroke-width="0.4">10</text>
<g transform="translate(688.04 2061.5) scale(1.035 1.055)" fill="#fff"><rect x="-33.41" y="-5.67" width="12.97" height="7.87"/><rect x="-14.21" y="-5.67" width="12.47" height="7.87"/></g>
<text transform="translate(1775.43 2061.5) scale(1.035 1.055)" font-size="66.67" text-anchor="middle" stroke="#000" stroke-width="0.4">100</text>
<g transform="translate(1775.43 2061.5) scale(1.035 1.055)" fill="#fff"><rect x="-51.95" y="-5.67" width="12.97" height="7.87"/><rect x="-32.75" y="-5.67" width="12.47" height="7.87"/></g>
<text transform="translate(2862.82 2061.5) scale(1.035 1.055)" font-size="66.67" text-anchor="middle" stroke="#000" stroke-width="0.4">1000</text>
<g transform="translate(2862.82 2061.5) scale(1.035 1.055)" fill="#fff"><rect x="-70.49" y="-5.67" width="12.97" height="7.87"/><rect x="-51.29" y="-5.67" width="12.47" height="7.87"/></g>
<text transform="translate(182.18 699.70) scale(1.00455 1.055)" font-size="66.67" stroke="#000" stroke-width="0.40">10</text>
<g transform="translate(182.18 699.70) scale(1.00455 1.055)" fill="#fff"><rect x="3.67" y="-5.67" width="12.97" height="7.87"/><rect x="22.87" y="-5.67" width="12.47" height="7.87"/></g>
<text transform="translate(258.83 680.10) scale(0.98333 1.0)" font-size="49" stroke="#000" stroke-width="0.29">−</text>
<text transform="translate(288.07 674.80) scale(0.98333 1.055)" font-size="49" stroke="#000" stroke-width="0.29">19</text>
<g transform="translate(288.07 674.80) scale(0.98333 1.055)" fill="#fff"><rect x="2.69" y="-4.24" width="9.53" height="6.39"/><rect x="16.81" y="-4.24" width="9.16" height="6.39"/></g>
<text transform="translate(182.18 1465.70) scale(1.00455 1.055)" font-size="66.67" stroke="#000" stroke-width="0.40">10</text>
<g transform="translate(182.18 1465.70) scale(1.00455 1.055)" fill="#fff"><rect x="3.67" y="-5.67" width="12.97" height="7.87"/><rect x="22.87" y="-5.67" width="12.47" height="7.87"/></g>
<text transform="translate(258.83 1446.10) scale(0.98333 1.0)" font-size="49" stroke="#000" stroke-width="0.29">−</text>
<text transform="translate(287.32 1440.80) scale(0.99020 1.055)" font-size="49" stroke="#000" stroke-width="0.29">20</text>
<text transform="translate(1713.89 2140.00) scale(1.02217 1.02)" font-size="66.67" stroke="#000" stroke-width="0.40">Frequency [Hz]</text>
<text transform="translate(3107.08 2151.00) scale(0.98066 1.01)" font-size="50" stroke="#000" stroke-width="0.30">Bin width: 0.100 Hz</text>
<g transform="translate(3107.08 2151.00) scale(0.98066 1.01)" fill="#fff"><rect x="275.11" y="-4.33" width="9.72" height="6.47"/><rect x="289.51" y="-4.33" width="9.35" height="6.47"/></g>
<text transform="translate(768.38 144.6) scale(0.98881 1.04)" font-size="83.33" stroke="#000" stroke-width="0.5">L1:PEM-CS</text>
<g transform="translate(768.38 144.6) scale(0.98881 1.04)" fill="#fff"><rect x="50.93" y="-7.01" width="16.21" height="9.26"/><rect x="74.93" y="-7.01" width="15.58" height="9.26"/></g>
<text transform="translate(1226.0 144.6) scale(0.98372 1.04)" font-size="83.33" stroke="#000" stroke-width="0.5">ACC</text>
<text transform="translate(1418.8 144.6) scale(0.99932 1.04)" font-size="83.33" stroke="#000" stroke-width="0.5">PSL</text>
<text transform="translate(1598.0 144.6) scale(0.99813 1.04)" font-size="83.33" stroke="#000" stroke-width="0.5">TABLE1</text>
<g transform="translate(1598.0 144.6) scale(0.99813 1.04)" fill="#fff"><rect x="268.57" y="-7.01" width="16.21" height="9.26"/><rect x="292.57" y="-7.01" width="15.58" height="9.26"/></g>
<text transform="translate(1927.99 144.6) scale(0.982 1.04)" font-size="83.33" stroke="#000" stroke-width="0.5">X</text>
<text transform="translate(2003.35 144.6) scale(0.982 1.04)" font-size="83.33" stroke="#000" stroke-width="0.5">-</text>
<text transform="translate(2051.47 144.6) scale(0.98235 1.04)" font-size="83.33" stroke="#000" stroke-width="0.5">Composite</text>
<text transform="translate(2462.37 144.6) scale(0.98276 1.04)" font-size="83.33" stroke="#000" stroke-width="0.5">Coupling</text>
<text transform="translate(2805.13 144.6) scale(0.98143 1.04)" font-size="83.33" stroke="#000" stroke-width="0.5">Function</text>
<text transform="translate(1115.47 236.2) scale(0.98689 1.012)" font-size="83.33" stroke="#000" stroke-width="0.5">(based</text>
<text transform="translate(1385.17 236.2) scale(0.982 1.012)" font-size="83.33" stroke="#000" stroke-width="0.5">on</text>
<text transform="translate(1495.93 236.2) scale(0.97863 1.012)" font-size="83.33" stroke="#000" stroke-width="0.5">loudest</text>
<text transform="translate(1779.97 236.2) scale(0.98844 1.012)" font-size="83.33" stroke="#000" stroke-width="0.5">injection</text>
<text transform="translate(2101.26 236.2) scale(0.982 1.012)" font-size="83.33" stroke="#000" stroke-width="0.5">at</text>
<text transform="translate(2191.26 236.2) scale(0.98421 1.012)" font-size="83.33" stroke="#000" stroke-width="0.5">each</text>
<text transform="translate(2389.83 236.2) scale(0.97371 1.012)" font-size="83.33" stroke="#000" stroke-width="0.5">frequency)</text>
<text transform="translate(113.2 1456.44) rotate(-90) scale(1.01343 1.02)" font-size="66.67" stroke="#000" stroke-width="0.4">Coupling [m / Counts]</text>
<rect x="360.0" y="288.0" width="3168.0" height="1704.0" fill="none" stroke="#808080" stroke-width="2.08"/>
<g stroke="#000" fill="none" stroke-width="2.08">
<path d="M687.0 1992.0v10"/>
<path d="M1775.0 1992.0v10"/>
<path d="M2862.0 1992.0v10"/>
<path d="M360.0 1992.0v6"/>
<path d="M446.0 1992.0v6"/>
<path d="M519.0 1992.0v6"/>
<path d="M582.0 1992.0v6"/>
<path d="M638.0 1992.0v6"/>
<path d="M1015.0 1992.0v6"/>
<path d="M1206.0 1992.0v6"/>
<path d="M1342.0 1992.0v6"/>
<path d="M1447.0 1992.0v6"/>
<path d="M1533.0 1992.0v6"/>
<path d="M1606.0 1992.0v6"/>
<path d="M1669.0 1992.0v6"/>
<path d="M1725.0 1992.0v6"/>
<path d="M2102.0 1992.0v6"/>
<path d="M2294.0 1992.0v6"/>
<path d="M2429.0 1992.0v6"/>
<path d="M2535.0 1992.0v6"/>
<path d="M2621.0 1992.0v6"/>
<path d="M2694.0 1992.0v6"/>
<path d="M2757.0 1992.0v6"/>
<path d="M2812.0 1992.0v6"/>
<path d="M3189.0 1992.0v6"/>
<path d="M3381.0 1992.0v6"/>
<path d="M3517.0 1992.0v6"/>
<path d="M360.0 673.0h-10"/>
<path d="M360.0 1439.0h-10"/>
<path d="M360.0 442.0h-6"/>
<path d="M360.0 307.0h-6"/>
<path d="M360.0 1209.0h-6"/>
<path d="M360.0 1074.0h-6"/>
<path d="M360.0 978.0h-6"/>
<path d="M360.0 904.0h-6"/>
<path d="M360.0 843.0h-6"/>
<path d="M360.0 792.0h-6"/>
<path d="M360.0 747.0h-6"/>
<path d="M360.0 708.0h-6"/>
<path d="M360.0 1975.0h-6"/>
<path d="M360.0 1840.0h-6"/>
<path d="M360.0 1744.0h-6"/>
<path d="M360.0 1670.0h-6"/>
<path d="M360.0 1609.0h-6"/>
<path d="M360.0 1558.0h-6"/>
<path d="M360.0 1514.0h-6"/>
<path d="M360.0 1474.0h-6"/>
</g>
<rect x="2140.5" y="288.5" width="1388.0" height="236.0" fill="#fff" fill-opacity="0.5" stroke="#808080" stroke-opacity="0.5" stroke-width="3"/>
<rect x="2159.2" y="310.2" width="52.7" height="37.4" fill="#ff0000"/>
<rect x="2159.2" y="383.4" width="52.7" height="37.4" fill="#0000ff"/>
<rect x="2159.2" y="457.5" width="52.7" height="37.4" fill="#00ffff"/>
<text transform="translate(2250.01 345.10) scale(0.97188 1.035)" font-size="50" stroke="#000" stroke-width="0.30">Measured Value (Signal seen in both sensor and DARM)</text>
<text transform="translate(2250.00 418.50) scale(0.97396 1.035)" font-size="50" stroke="#000" stroke-width="0.30">Upper Limit (Signal seen in sensor but not DARM)</text>
<text transform="translate(2250.53 492.40) scale(0.97306 1.035)" font-size="50" stroke="#000" stroke-width="0.30">Thresholds Not Met (Signal not seen in sensor nor DARM)</text>
</svg></body></html>
